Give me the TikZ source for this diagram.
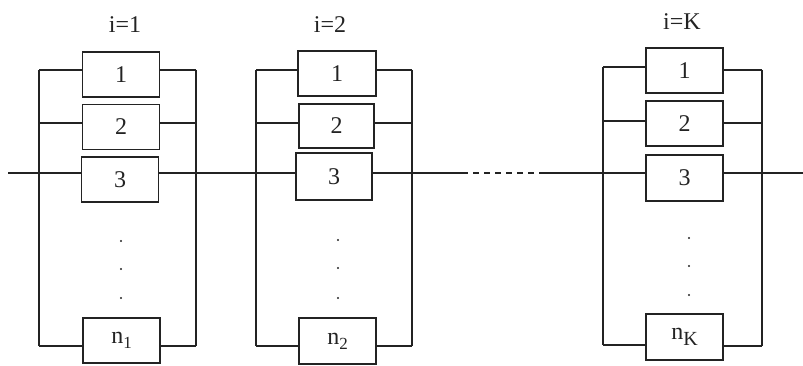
\documentclass[tikz,border=0pt]{standalone}
\usepackage{fontspec}
\setmainfont{Liberation Serif}
\definecolor{ink}{RGB}{35,35,35}
\begin{document}
\begin{tikzpicture}[x=1pt,y=-1pt,
  unit/.style={draw=ink, line width=1.3pt, rectangle, minimum width=77pt, minimum height=45pt, inner sep=0pt,
    font=\fontsize{24}{26}\selectfont, text=ink},
  wire/.style={draw=ink, line width=1.2pt},
  lab/.style={font=\fontsize{24}{26}\selectfont, text=ink},
  dotm/.style={fill=ink}
]
\useasboundingbox (0,0) rectangle (803,366);

% ---------- stage 1 ----------
\node[lab] (t1) at (125,25) {i=1};
\node[unit] (a1) at (121,74.5) {1};
\node[unit] (a2) at (121,127) {2};
\node[unit] (a3) at (120,179.5) {3};
\node[unit] (an) at (121.5,340.5) {n\raisebox{-5pt}{\fontsize{17}{17}\selectfont 1}};
\coordinate (aLt) at (39,70);  \coordinate (aLb) at (39,346);
\coordinate (aRt) at (196,70); \coordinate (aRb) at (196,346);
\draw[wire] (aLt) -- (aLb);
\draw[wire] (aRt) -- (aRb);
\draw[wire] (aLt) -- (aLt -| a1.west);
\draw[wire] (aRt) -- (aRt -| a1.east);
\draw[wire] (39,123) -- (39,123 -| a2.west);
\draw[wire] (196,123) -- (196,123 -| a2.east);
\draw[wire] (aLb) -- (aLb -| an.west);
\draw[wire] (aRb) -- (aRb -| an.east);
\foreach \yy in {241,269,298} \fill[dotm] (121,\yy) circle (1.2pt);

% ---------- stage 2 ----------
\node[lab] (t2) at (330,25) {i=2};
\node[unit, minimum width=78pt] (b1) at (337,73.5) {1};
\node[unit, minimum width=75pt, minimum height=44pt] (b2) at (336.5,126) {2};
\node[unit, minimum width=76pt, minimum height=47pt] (b3) at (334,176.5) {3};
\node[unit, minimum height=46pt] (bn) at (337.5,341) {n\raisebox{-5pt}{\fontsize{17}{17}\selectfont 2}};
\coordinate (bLt) at (256,70);  \coordinate (bLb) at (256,346);
\coordinate (bRt) at (412,70);  \coordinate (bRb) at (412,346);
\draw[wire] (bLt) -- (bLb);
\draw[wire] (bRt) -- (bRb);
\draw[wire] (bLt) -- (bLt -| b1.west);
\draw[wire] (bRt) -- (bRt -| b1.east);
\draw[wire] (256,123) -- (256,123 -| b2.west);
\draw[wire] (412,123) -- (412,123 -| b2.east);
\draw[wire] (bLb) -- (bLb -| bn.west);
\draw[wire] (bRb) -- (bRb -| bn.east);
\foreach \yy in {240,268,298} \fill[dotm] (338,\yy) circle (1.2pt);

% ---------- stage K ----------
\node[lab] (tk) at (682,22) {i=K};
\node[unit] (k1) at (684.5,70.5) {1};
\node[unit] (k2) at (684.5,123.5) {2};
\node[unit, minimum height=46pt] (k3) at (684.5,178) {3};
\node[unit, minimum height=46pt] (kn) at (684.5,337) {n\raisebox{-6pt}{\fontsize{20}{20}\selectfont K}};
\coordinate (kLt) at (603,67);  \coordinate (kLb) at (603,345);
\coordinate (kRt) at (762,70);  \coordinate (kRb) at (762,346);
\draw[wire] (kLt) -- (kLb);
\draw[wire] (kRt) -- (kRb);
\draw[wire] (kLt) -- (kLt -| k1.west);
\draw[wire] (kRt) -- (kRt -| k1.east);
\draw[wire] (603,121) -- (603,121 -| k2.west);
\draw[wire] (762,123) -- (762,123 -| k2.east);
\draw[wire] (kLb) -- (kLb -| kn.west);
\draw[wire] (kRb) -- (kRb -| kn.east);
\foreach \yy in {238,266,295} \fill[dotm] (689,\yy) circle (1.2pt);

% ---------- main series line ----------
\coordinate (in) at (8,173);
\coordinate (d1) at (462,173);
\coordinate (d2) at (543,173);
\coordinate (out) at (803,173);
\draw[wire] (in) -- (in -| a3.west);
\draw[wire] (a3.east |- in) -- (in -| b3.west);
\draw[wire] (b3.east |- in) -- (d1);
\draw[wire, dash pattern=on 6pt off 5pt] (d1) -- (d2);
\draw[wire] (d2) -- (d2 -| k3.west);
\draw[wire] (k3.east |- out) -- (out);
\end{tikzpicture}
\end{document}
